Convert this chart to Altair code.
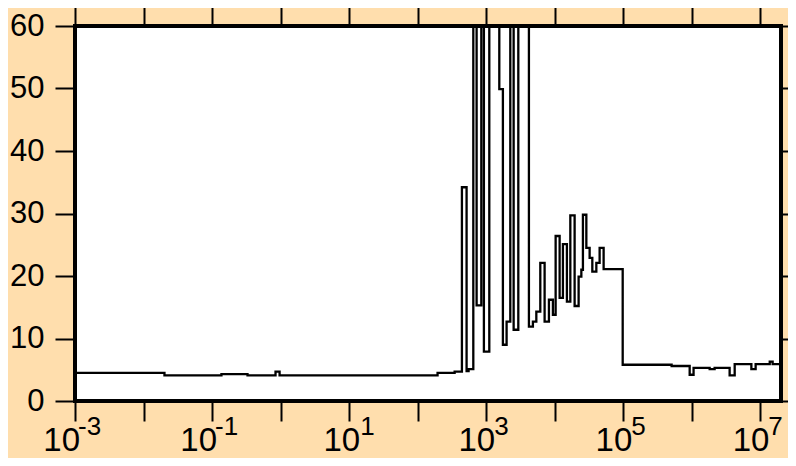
import altair as alt
import pandas as pd

# Step histogram: bin left edges (last entry = right end) and bin heights
edges = [0.001, 0.0202, 0.137, 0.329, 0.843, 0.966, 195, 346, 442, 517,
         553, 648, 724, 848, 925, 1109, 1552, 1751, 1983, 2245,
         2512, 2939, 4198, 4798, 5383, 6152, 7112, 8222, 9397, 10300,
         11780, 13150, 15040, 16870, 19490, 22290, 24430, 25760, 28900, 32270,
         35320, 40430, 45150, 51640, 98000, 507000, 930000, 1.06e6, 1.82e6, 2.15e6,
         3.56e6, 4.22e6, 7.39e6, 8.53e6, 1.37e7, 1.51e7, 2e7]
heights = [4.5, 4.1, 4.3, 4.1, 4.7, 4.1, 4.5, 4.7, 34.2, 4.8,
           5.1, 100, 15.3, 100, 7.9, 100, 49.9, 9.0, 12.7, 100,
           11.4, 100, 11.9, 12.7, 14.3, 22.1, 12.7, 16.2, 13.8, 26.4,
           16.5, 25.1, 15.9, 29.7, 15.2, 19.9, 21.0, 29.8, 24.5, 22.9,
           20.7, 22.1, 24.5, 21.1, 5.8, 5.6, 4.2, 5.3, 5.1, 5.3,
           4.1, 5.9, 5.1, 5.9, 6.3, 5.9]

decade_ticks = [1e-3, 1e-2, 1e-1, 1e0, 1e1, 1e2, 1e3, 1e4, 1e5, 1e6, 1e7]
y_ticks = [0, 10, 20, 30, 40, 50, 60]

neg_ticks = [1e-3, 1e-1]
neg_exps = ["-3", "-1"]
one_ticks = [1e1]
one_exps = ["1"]
pos_ticks = [1e3, 1e5, 1e7]
pos_exps = ["3", "5", "7"]

FONT = "Liberation Sans"

df = pd.DataFrame({"x": edges, "y": heights + [heights[-1]]})

xscale = alt.Scale(type="log", domain=[1e-3, 2e7])
yscale = alt.Scale(domain=[0, 60])

common = dict(grid=False, domain=False, ticks=True, tickColor="black",
              tickWidth=2, tickSize=20, title=None)

line = alt.Chart(df).mark_line(
    interpolate="step-after", color="black", strokeWidth=2.3, clip=True
).encode(
    x=alt.X("x:Q", scale=xscale,
            axis=alt.Axis(orient="bottom", values=decade_ticks, labels=False, **common)),
    y=alt.Y("y:Q", scale=yscale,
            axis=alt.Axis(orient="left", values=y_ticks, labelFont=FONT,
                          labelFontSize=31, labelColor="black", labelPadding=11,
                          **common)),
)

frame = alt.Chart(df).mark_line(opacity=0).encode(
    x=alt.X("x:Q", scale=xscale,
            axis=alt.Axis(orient="top", values=decade_ticks, labels=False, **common)),
    y=alt.Y("y:Q", scale=yscale,
            axis=alt.Axis(orient="right", values=y_ticks, labels=False, **common)),
)


def label_layers(ticks, exps, dx_base, dx_exp):
    d = pd.DataFrame({"x": ticks, "e": exps})
    base = alt.Chart(d).mark_text(
        align="right", baseline="alphabetic", font=FONT, fontSize=33,
        color="black", dx=dx_base
    ).encode(x=alt.X("x:Q", scale=xscale, axis=None), y=alt.value(425),
             text=alt.value("10"))
    exp = alt.Chart(d).mark_text(
        align="left", baseline="alphabetic", font=FONT, fontSize=26,
        color="black", dx=dx_exp
    ).encode(x=alt.X("x:Q", scale=xscale, axis=None), y=alt.value(409),
             text="e:N")
    return [base, exp]


layers = [line, frame]
layers += label_layers(neg_ticks, neg_exps, 5, 3)
layers += label_layers(one_ticks, one_exps, 11, 11)
layers += label_layers(pos_ticks, pos_exps, 9, 8)

chart = alt.layer(*layers).resolve_axis(
    x="independent", y="independent"
).properties(
    width=706, height=375,
    background="#FFDEAD",
    padding={"left": 67, "top": 18, "right": 7, "bottom": 57},
    autosize=alt.AutoSizeParams(type="none"),
).configure_view(stroke="black", strokeWidth=4, fill="white")

chart.save("out.html", embed_options={"renderer": "svg", "actions": False})
